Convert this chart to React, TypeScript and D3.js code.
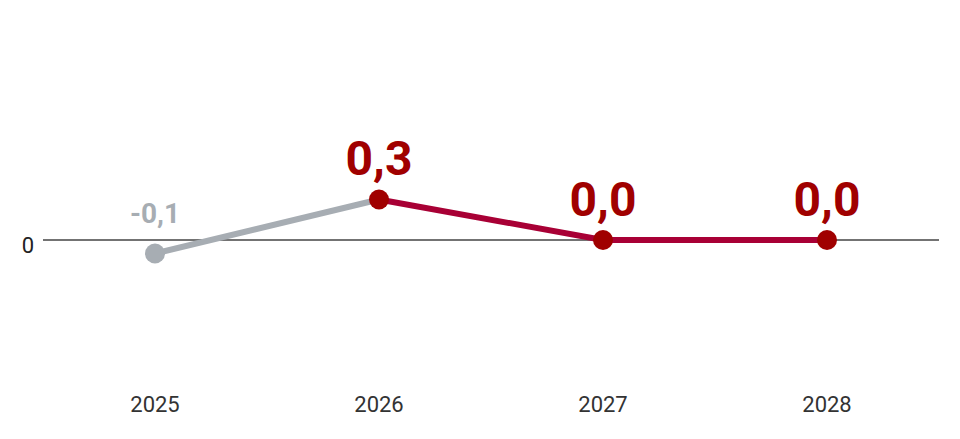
import { useRef, useEffect } from 'react'
import * as d3 from 'd3'

const years = ['2025', '2026', '2027', '2028']
const values = [-0.1, 0.3, 0.0, 0.0]
const labels = ['-0,1', '0,3', '0,0', '0,0']
// first point is the actual value, the rest are forecasts
const isForecast = [false, true, true, true]

const WIDTH = 960
const HEIGHT = 439

export default function App() {
  const svgRef = useRef<SVGSVGElement>(null)

  useEffect(() => {
    if (!svgRef.current) return
    const svg = d3.select(svgRef.current)
    svg.selectAll('*').remove()

    const x = d3.scaleBand<string>().domain(years).range([43, 939])
    const y = d3.scaleLinear().domain([-1, 1]).range([375, 105])
    const cx = (i: number) => (x(years[i]) ?? 0) + x.bandwidth() / 2

    const font = 'Roboto, "Noto Sans", sans-serif'

    // zero line
    svg.append('line')
      .attr('x1', 43)
      .attr('x2', 939)
      .attr('y1', y(0))
      .attr('y2', y(0))
      .attr('stroke', '#444')
      .attr('stroke-width', 1.5)

    svg.append('text')
      .attr('x', 34)
      .attr('y', y(0) + 13)
      .attr('text-anchor', 'end')
      .attr('font-family', font)
      .attr('font-size', 22)
      .attr('fill', '#222')
      .text('0')

    // x axis labels
    svg.append('g')
      .selectAll('text')
      .data(years)
      .enter()
      .append('text')
      .attr('x', (d) => (x(d) ?? 0) + x.bandwidth() / 2)
      .attr('y', 412)
      .attr('text-anchor', 'middle')
      .attr('font-family', font)
      .attr('font-size', 22)
      .attr('fill', '#333')
      .text((d) => d)

    const line = d3.line<number>()
      .x((_, i) => cx(i))
      .y((d) => y(d))

    // actual segment (gray) into first forecast
    svg.append('path')
      .datum(values.slice(0, 2))
      .attr('d', line)
      .attr('fill', 'none')
      .attr('stroke', '#a7adb3')
      .attr('stroke-width', 6)

    // forecast segment (red)
    svg.append('path')
      .datum(values.slice(1))
      .attr('d', d3.line<number>().x((_, i) => cx(i + 1)).y((d) => y(d)))
      .attr('fill', 'none')
      .attr('stroke', '#a80035')
      .attr('stroke-width', 6)

    svg.append('g')
      .selectAll('circle')
      .data(values)
      .enter()
      .append('circle')
      .attr('cx', (_, i) => cx(i))
      .attr('cy', (d) => y(d))
      .attr('r', 10)
      .attr('fill', (_, i) => (isForecast[i] ? '#a00000' : '#a7adb3'))

    svg.append('g')
      .selectAll('text')
      .data(values)
      .enter()
      .append('text')
      .attr('x', (_, i) => cx(i))
      .attr('y', (d, i) => y(d) - (isForecast[i] ? 24.5 : 31))
      .attr('text-anchor', 'middle')
      .attr('font-family', font)
      .attr('font-weight', 700)
      .attr('font-size', (_, i) => (isForecast[i] ? 48 : 28))
      .attr('fill', (_, i) => (isForecast[i] ? '#a00000' : '#a7adb3'))
      .text((_, i) => labels[i])
  }, [])

  return (
    <svg
      ref={svgRef}
      width={WIDTH}
      height={HEIGHT}
      style={{ position: 'absolute', left: 0, top: 0, background: '#fff' }}
    />
  )
}
